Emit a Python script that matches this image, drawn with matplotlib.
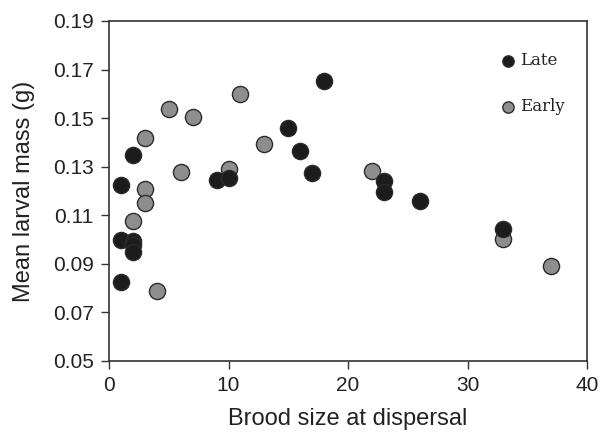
import matplotlib
matplotlib.use("Agg")
import matplotlib.pyplot as plt

# late broods
late_x = [1, 1, 1, 2, 2, 2, 2, 9, 10, 15, 16, 17, 18, 23, 23, 26, 33]
late_y = [0.1225, 0.0998, 0.0827, 0.1348, 0.0994, 0.0977, 0.0948, 0.1244, 0.1255,
          0.1458, 0.1365, 0.1274, 0.1653, 0.1241, 0.1197, 0.1159, 0.1043]

# early broods
early_x = [2, 3, 3, 3, 4, 5, 6, 7, 10, 11, 13, 22, 33, 37]
early_y = [0.1076, 0.1419, 0.1208, 0.1149, 0.0787, 0.1536, 0.1278, 0.1503, 0.1290,
           0.1600, 0.1393, 0.1283, 0.1004, 0.0891]

xticks = [0, 10, 20, 30, 40]
yticks = [0.05, 0.07, 0.09, 0.11, 0.13, 0.15, 0.17, 0.19]

fig = plt.figure(figsize=(6.01, 4.32), dpi=100)
ax = fig.add_axes([0.1814, 0.1644, 0.7953, 0.787])

edge = "#2b2b2b"
ax.scatter(early_x, early_y, s=135, c="#8e8e8e", edgecolors=edge, linewidths=1.0, zorder=3, label="Early")
ax.scatter(late_x, late_y, s=135, c="#1c1c1c", edgecolors=edge, linewidths=1.0, zorder=3, label="Late")

ax.set_xlim(0, 40)
ax.set_ylim(0.05, 0.19)
ax.set_xticks(xticks)
ax.set_yticks(yticks)
ax.set_yticklabels([f"{v:.2f}" for v in yticks])
for sp in ax.spines.values():
    sp.set_color("#333333")
    sp.set_linewidth(1.2)
ax.tick_params(direction="out", length=6, width=1, color="#333333",
               labelsize=15, labelcolor="#222222", pad=5)
for lbl in ax.get_xticklabels() + ax.get_yticklabels():
    lbl.set_family("Liberation Sans")

ax.set_xlabel("Brood size at dispersal", fontsize=17, family="Liberation Sans", color="#222222", labelpad=9)
ax.set_ylabel("Mean larval mass (g)", fontsize=17, family="Liberation Sans", color="#222222", labelpad=13)

h, l = ax.get_legend_handles_labels()
leg = ax.legend(h[::-1], l[::-1], loc="upper left", bbox_to_anchor=(0.786, 0.953), frameon=False,
                markerscale=0.7, handlelength=1.0, handletextpad=0.2, labelspacing=1.75,
                prop={"family": "DejaVu Serif", "size": 12})
for t in leg.get_texts():
    t.set_color("#222222")

fig.savefig("out.png", dpi=100)
